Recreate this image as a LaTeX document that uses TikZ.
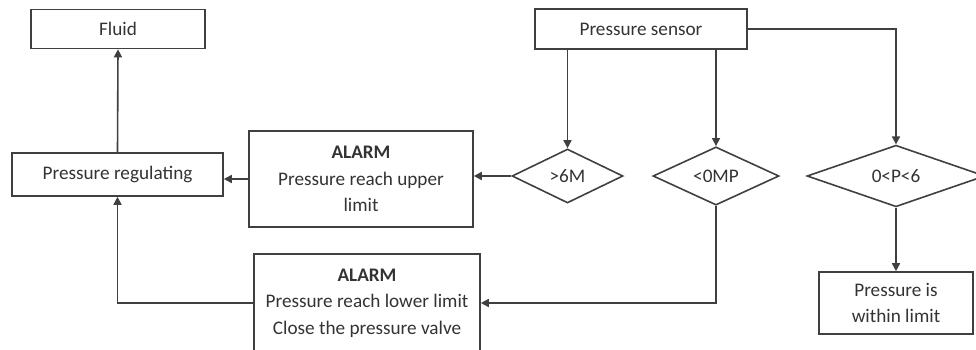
\documentclass[tikz,border=0pt]{standalone}
\usepackage{fontspec}
\setmainfont{Carlito}
\usepackage{tikz}
\usetikzlibrary{shapes.geometric, arrows.meta}

\begin{document}
\begin{tikzpicture}[x=0.5pt, y=-0.5pt,
    every node/.style={text=black!80, font=\fontsize{9.6}{13.2}\selectfont},
    box/.style={draw=black!75, line width=0.8pt, align=center, inner sep=0pt},
    decision/.style={diamond, draw=black!75, line width=0.8pt, inner sep=0pt},
    flow/.style={draw=black!75, line width=0.8pt, -{Triangle[length=4pt, width=4pt]}}]
    \useasboundingbox (0,0) rectangle (976,349);
    \node[box, minimum width=87pt, minimum height=19.5pt] (fluid) at (118,29) {Fluid};
    \node[box, minimum width=105.5pt, minimum height=21.5pt] (regul) at (117.5,174.5) {Pressure regulating};
    \node[box, minimum width=112pt, minimum height=48pt] (alarmup) at (361,179) {\textbf{ALARM}\\Pressure reach upper\\limit};
    \node[box, minimum width=106pt, minimum height=20pt] (sensor) at (641,29) {Pressure sensor};
    \node[decision, minimum width=55.5pt, minimum height=27pt] (over) at (567.5,176) {>6M};
    \node[decision, minimum width=63pt, minimum height=27pt] (under) at (716,176) {<0MP};
    \node[decision, minimum width=89pt, minimum height=27pt] (normal) at (896,176) {0<P<6};
    \node[box, minimum width=113pt, minimum height=49pt] (alarmlow) at (367,303) {\textbf{ALARM}\\Pressure reach lower limit\\Close the pressure valve};
    \node[box, minimum width=77pt, minimum height=31pt] (within) at (896,303) {Pressure is\\within limit};
    \draw[flow] (regul.north) -- (fluid.south);
    \draw[flow] (alarmup.west) -- (alarmup.west -| regul.east);
    \draw[flow] (over.west) -- (over.west -| alarmup.east);
    \draw[flow] (over.north |- sensor.south) -- (over.north);
    \draw[flow] (under.north |- sensor.south) -- (under.north);
    \draw[flow] (sensor.east) -| (normal.north);
    \draw[flow] (under.south) |- (alarmlow.east);
    \draw[flow] (alarmlow.west) -| (regul.south);
    \draw[flow] (normal.south) -- (within.north);
\end{tikzpicture}
\end{document}
